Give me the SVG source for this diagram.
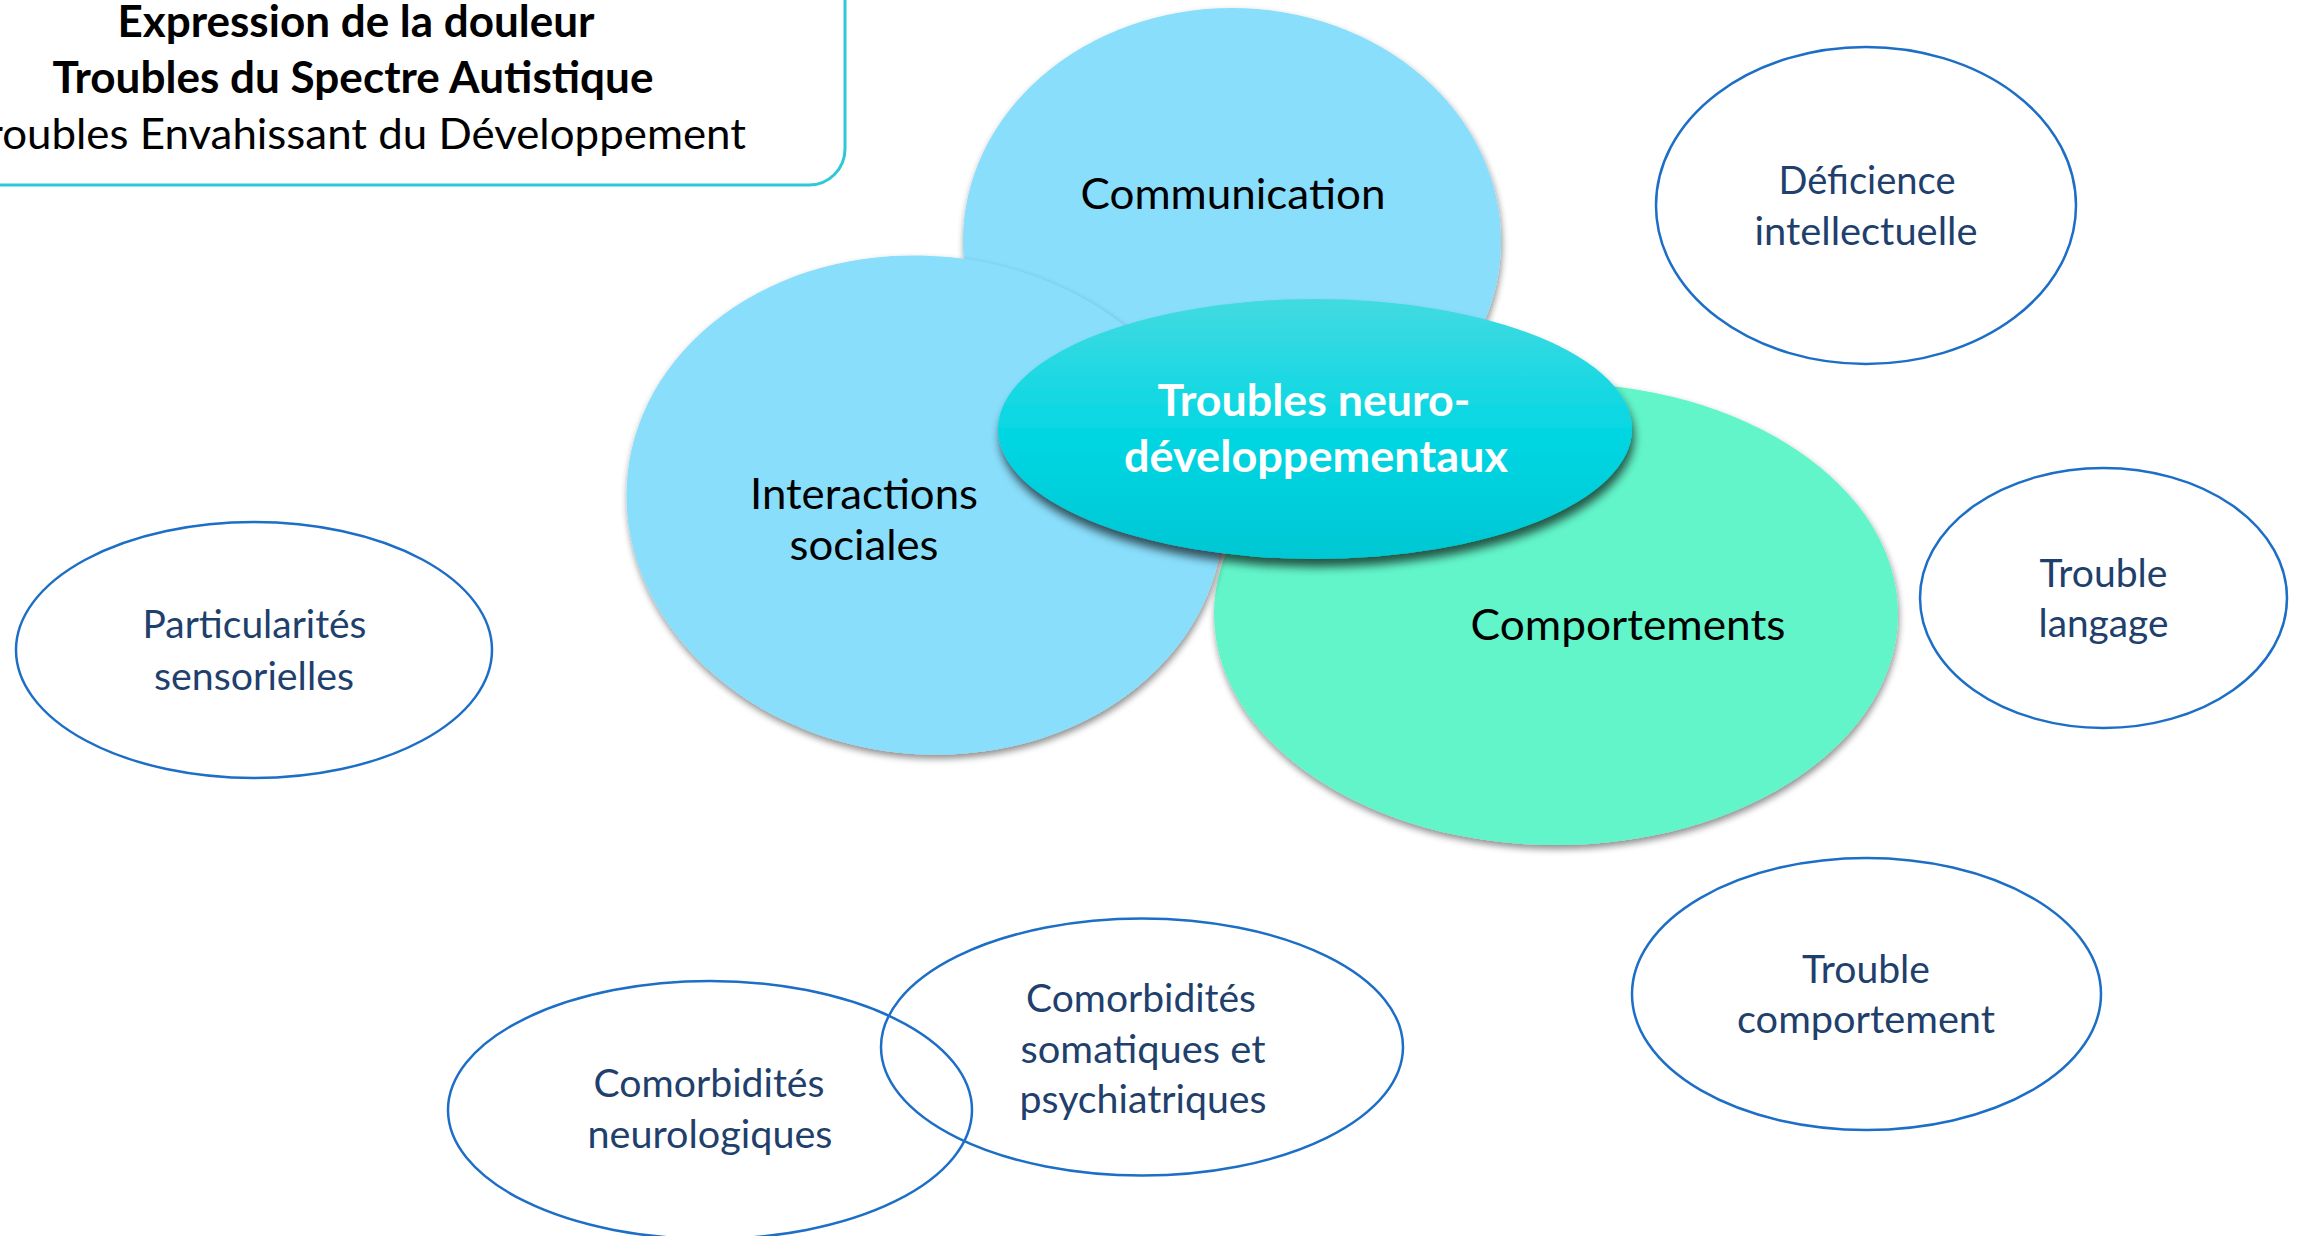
<svg xmlns="http://www.w3.org/2000/svg" width="2305" height="1236" viewBox="0 0 2305 1236">
  <defs>
    <!-- vertical sheen for the central ellipse -->
    <linearGradient id="coreFill" x1="0" y1="0" x2="0" y2="1">
      <stop offset="0" stop-color="#43DAE1"/>
      <stop offset="0.5" stop-color="#06D7E3"/>
      <stop offset="1" stop-color="#00C7D4"/>
    </linearGradient>
    <!-- soft drop shadow under the filled ellipses -->
    <filter id="softShadow" x="-10%" y="-10%" width="120%" height="125%">
      <feGaussianBlur in="SourceAlpha" stdDeviation="3.5"/>
      <feOffset dx="1" dy="4"/>
      <feComponentTransfer><feFuncA type="linear" slope="0.45"/></feComponentTransfer>
      <feMerge><feMergeNode/><feMergeNode in="SourceGraphic"/></feMerge>
    </filter>
    <!-- stronger shadow for the central ellipse -->
    <filter id="coreShadow" x="-10%" y="-10%" width="120%" height="130%">
      <feGaussianBlur in="SourceAlpha" stdDeviation="5"/>
      <feOffset dx="2" dy="8"/>
      <feComponentTransfer><feFuncA type="linear" slope="0.65"/></feComponentTransfer>
      <feMerge><feMergeNode/><feMergeNode in="SourceGraphic"/></feMerge>
    </filter>
  </defs>
  <style>
    .lbl { font-family: Lato, "Open Sans", "Liberation Sans", sans-serif; text-anchor: middle; }
    .title { font-size: 43px; fill: #000; }
    .bold { font-weight: 700; }
    .big { font-size: 43px; fill: #000; }
    .core { font-size: 43px; font-weight: 700; fill: #fff; }
    .small { font-size: 38px; fill: #1F3F6C; }
    .ring { fill: none; stroke: #1C6EC6; stroke-width: 2.5; }
    .sky { fill: #89DEFC; }
    .mint { fill: #62F5C9; }
  </style>

  <rect width="2305" height="1236" fill="#fff"/>

  <!-- heading box, partly outside the page on the top-left -->
  <g id="title">
    <rect x="-40" y="-40" width="885" height="225" rx="36" fill="#fff" stroke="#2EC8D7" stroke-width="3"/>
    <text class="lbl title bold" x="356" y="37" textLength="477" lengthAdjust="spacingAndGlyphs">Expression de la douleur</text>
    <text class="lbl title bold" x="353" y="93" textLength="601" lengthAdjust="spacingAndGlyphs">Troubles du Spectre Autistique</text>
    <text class="lbl title" x="356" y="149" textLength="780" lengthAdjust="spacingAndGlyphs">Troubles Envahissant du Développement</text>
  </g>

  <!-- filled core domains -->
  <g id="communication">
    <ellipse class="sky" cx="1232" cy="241" rx="269" ry="233" filter="url(#softShadow)"/>
    <text class="lbl big" x="1233" y="209" textLength="305" lengthAdjust="spacingAndGlyphs">Communication</text>
  </g>

  <g id="comportements">
    <ellipse class="mint" cx="1556" cy="614" rx="342" ry="231" filter="url(#softShadow)"/>
    <text class="lbl big" x="1628" y="640" textLength="315" lengthAdjust="spacingAndGlyphs">Comportements</text>
  </g>

  <g id="interactions">
    <g filter="url(#softShadow)">
      <ellipse class="sky" cx="925" cy="505" rx="299" ry="249" transform="rotate(6 925 505)"/>
    </g>
    <text class="lbl big" x="864" y="509" textLength="228" lengthAdjust="spacingAndGlyphs">Interactions</text>
    <text class="lbl big" x="864" y="560" textLength="149" lengthAdjust="spacingAndGlyphs">sociales</text>
  </g>

  <g id="tnd">
    <ellipse cx="1315" cy="429" rx="317" ry="130" fill="url(#coreFill)" filter="url(#coreShadow)"/>
    <text class="lbl core" x="1314" y="416" textLength="313" lengthAdjust="spacingAndGlyphs">Troubles neuro-</text>
    <text class="lbl core" x="1316" y="472" textLength="384" lengthAdjust="spacingAndGlyphs">développementaux</text>
  </g>

  <!-- outlined associated conditions -->
  <g id="deficience">
    <ellipse class="ring" cx="1866" cy="205.5" rx="210" ry="158.5"/>
    <text class="lbl small" x="1867" y="194" textLength="177" lengthAdjust="spacingAndGlyphs">Déficience</text>
    <text class="lbl small" x="1866" y="245" textLength="223" lengthAdjust="spacingAndGlyphs">intellectuelle</text>
  </g>

  <g id="langage">
    <ellipse class="ring" cx="2103.5" cy="598" rx="183.5" ry="130"/>
    <text class="lbl small" x="2103.5" y="587" textLength="128" lengthAdjust="spacingAndGlyphs">Trouble</text>
    <text class="lbl small" x="2103.5" y="637" textLength="130" lengthAdjust="spacingAndGlyphs">langage</text>
  </g>

  <g id="trouble-comportement">
    <ellipse class="ring" cx="1866.5" cy="994" rx="234.5" ry="136"/>
    <text class="lbl small" x="1866" y="983" textLength="128" lengthAdjust="spacingAndGlyphs">Trouble</text>
    <text class="lbl small" x="1866" y="1033" textLength="258" lengthAdjust="spacingAndGlyphs">comportement</text>
  </g>

  <g id="sensorielles">
    <ellipse class="ring" cx="254" cy="650" rx="238" ry="128"/>
    <text class="lbl small" x="254.5" y="638" textLength="224" lengthAdjust="spacingAndGlyphs">Particularités</text>
    <text class="lbl small" x="254" y="690" textLength="200" lengthAdjust="spacingAndGlyphs">sensorielles</text>
  </g>

  <g id="comorbidites-neuro">
    <ellipse class="ring" cx="710" cy="1110" rx="262" ry="129"/>
    <text class="lbl small" x="709" y="1097" textLength="231" lengthAdjust="spacingAndGlyphs">Comorbidités</text>
    <text class="lbl small" x="710" y="1148" textLength="245" lengthAdjust="spacingAndGlyphs">neurologiques</text>
  </g>

  <g id="comorbidites-soma">
    <ellipse class="ring" cx="1142" cy="1047" rx="261" ry="128.5"/>
    <text class="lbl small" x="1141" y="1012" textLength="230" lengthAdjust="spacingAndGlyphs">Comorbidités</text>
    <text class="lbl small" x="1143" y="1063" textLength="245" lengthAdjust="spacingAndGlyphs">somatiques et</text>
    <text class="lbl small" x="1143" y="1113" textLength="247" lengthAdjust="spacingAndGlyphs">psychiatriques</text>
  </g>

  <g id="connectors"></g>
</svg>
